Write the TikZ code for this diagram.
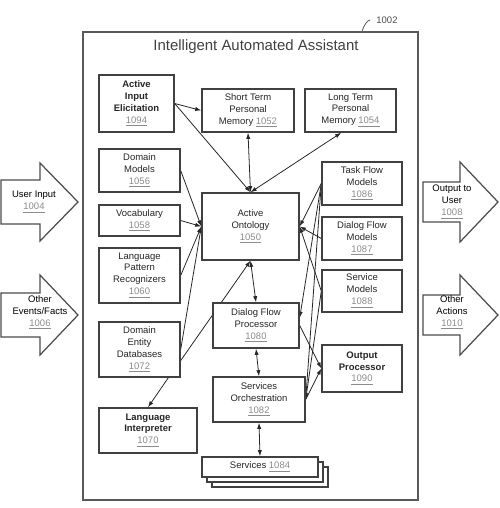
\documentclass[tikz,border=0pt]{standalone}
\usepackage{fontspec}
\setmainfont{Liberation Sans}
\usetikzlibrary{calc,arrows.meta,backgrounds}
\newcommand{\boxfont}{\fontsize{5.4}{6.8}\selectfont}
\newcommand{\refnum}[1]{\textcolor{black!45}{\underline{#1}}}
\tikzset{
comp/.style={draw=black!75, line width=0.8pt, fill=white, align=center, inner sep=1pt, font=\boxfont, text=black!85},
flow/.style={line width=0.45pt, draw=black!85, -{Latex[length=3.5pt,width=2.4pt]}},
both flow/.style={flow, {Latex[length=3.5pt,width=2.4pt]}-{Latex[length=3.5pt,width=2.4pt]}},
big arrow/.style={draw=black!70, line width=0.7pt, fill=white},
}

\begin{document}
\begin{tikzpicture}[x=0.02cm, y=-0.02cm]
\useasboundingbox (0,0) rectangle (500,508);

% frame and title
\draw[black!65, line width=0.9pt] (83,32) rectangle (418,500);
\node[font=\fontsize{8.5}{10}\selectfont, text=black!75] (title) at (256,47) {Intelligent Automated Assistant};
\node[font=\boxfont, text=black!70] (lbl1002) at (387,20) {1002};
\coordinate (frameref) at (362,32);
\draw[black!60, line width=0.5pt] (frameref) .. controls (364,24) and (368,20) .. (lbl1002.west);

% inputs and outputs
\draw[big arrow] (1,180) -- (40,180) -- (40,163) -- (78,202) -- (40,241) -- (40,224) -- (1,224) -- cycle;
\node[font=\boxfont, align=center] (usrin) at (34,202) {User Input\\\refnum{1004}};
\draw[big arrow] (1,293) -- (40,293) -- (40,275) -- (78,315) -- (40,355) -- (40,337) -- (1,337) -- cycle;
\node[font=\boxfont, align=center] (evts) at (40,312.5) {Other\\Events/Facts\\\refnum{1006}};
\draw[big arrow] (423,182) -- (460,182) -- (460,162) -- (498,202) -- (460,242) -- (460,222) -- (423,222) -- cycle;
\node[font=\boxfont, align=center] (usrout) at (452,202) {Output to\\User\\\refnum{1008}};
\draw[big arrow] (423,295) -- (460,295) -- (460,275) -- (498,315) -- (460,355) -- (460,335) -- (423,335) -- cycle;
\node[font=\boxfont, align=center] (acts) at (452,312.5) {Other\\Actions\\\refnum{1010}};

% components
\node[comp, minimum width=1.5cm, minimum height=1.14cm] (aie) at (136.5,103.5) {\textbf{Active}\\\textbf{Input}\\\textbf{Elicitation}\\\refnum{1094}};
\node[comp, minimum width=1.84cm, minimum height=0.86cm] (stm) at (248,110.5) {Short Term\\Personal\\Memory \refnum{1052}};
\node[comp, minimum width=1.82cm, minimum height=0.86cm] (ltm) at (350.5,110.5) {Long Term\\Personal\\Memory \refnum{1054}};
\node[comp, minimum width=1.62cm, minimum height=0.86cm] (dm) at (139.5,170.5) {Domain\\Models\\\refnum{1056}};
\node[comp, minimum width=1.62cm, minimum height=0.62cm] (voc) at (139.5,220.5) {Vocabulary\\\refnum{1058}};
\node[comp, minimum width=1.62cm, minimum height=1.1cm] (lpr) at (139.5,275.5) {Language\\Pattern\\Recognizers\\\refnum{1060}};
\node[comp, minimum width=1.62cm, minimum height=1.1cm] (ded) at (139.5,349.5) {Domain\\Entity\\Databases\\\refnum{1072}};
\node[comp, minimum width=1.96cm, minimum height=0.9cm] (li) at (148,430.5) {\textbf{Language}\\\textbf{Interpreter}\\\refnum{1070}};
\node[comp, minimum width=1.94cm, minimum height=1.34cm] (ao) at (250.5,226.5) {Active\\Ontology\\\refnum{1050}};
\node[comp, minimum width=1.72cm, minimum height=0.9cm] (dfp) at (256,325.5) {Dialog Flow\\Processor\\\refnum{1080}};
\node[comp, minimum width=1.84cm, minimum height=0.9cm] (so) at (259,399.5) {Services\\Orchestration\\\refnum{1082}};
\node[comp, minimum width=1.6cm, minimum height=0.86cm] (tfm) at (362,183.5) {Task Flow\\Models\\\refnum{1086}};
\node[comp, minimum width=1.6cm, minimum height=0.86cm] (dfm) at (362,238.5) {Dialog Flow\\Models\\\refnum{1087}};
\node[comp, minimum width=1.6cm, minimum height=0.84cm] (sm) at (362,291) {Service\\Models\\\refnum{1088}};
\node[comp, minimum width=1.6cm, minimum height=0.94cm] (op) at (362,368.5) {\textbf{Output}\\\textbf{Processor}\\\refnum{1090}};
\node[comp, minimum width=2.32cm, minimum height=0.4cm] (svc3) at (270,477) {};
\node[comp, minimum width=2.32cm, minimum height=0.4cm] (svc2) at (265,472) {};
\node[comp, minimum width=2.32cm, minimum height=0.4cm] (svc) at (260,467) {Services \refnum{1084}};

% connectors
\begin{pgfonlayer}{background}
\draw[flow] (aie.east) -- (stm.west);
\draw[flow] (aie.east) -- (ao.north);
\draw[both flow] (stm.south) -- (ao.north);
\draw[both flow] ($(ltm.south west)!0.4!(ltm.south east)$) -- (ao.north);
\draw[flow] (dm.east) -- (ao.west);
\draw[flow] (voc.east) -- (ao.west);
\draw[flow] (lpr.east) -- (ao.west);
\draw[flow] (ded.east) -- (ao.west);
\draw[flow] (ded.-15) -- (ao.south);
\draw[flow] ($(ded.south west)!0.85!(ded.south east)$) -- (li.north);
\draw[both flow] (ao.south) -- (dfp.north);
\draw[both flow] (dfp.south) -- (so.north);
\draw[both flow] (so.south) -- (svc.north);
\draw[flow] (tfm.west) -- (ao.east);
\draw[flow] (dfm.west) -- (ao.east);
\draw[flow] (sm.west) -- (ao.east);
\draw[flow] (tfm.west) -- (dfp.10);
\draw[flow] (tfm.west) -- (so.east);
\draw[flow] (sm.west) -- (so.east);
\draw[flow] (dfp.east) -- (op.west);
\draw[flow] (so.east) -- (op.west);
\end{pgfonlayer}
\end{tikzpicture}
\end{document}
